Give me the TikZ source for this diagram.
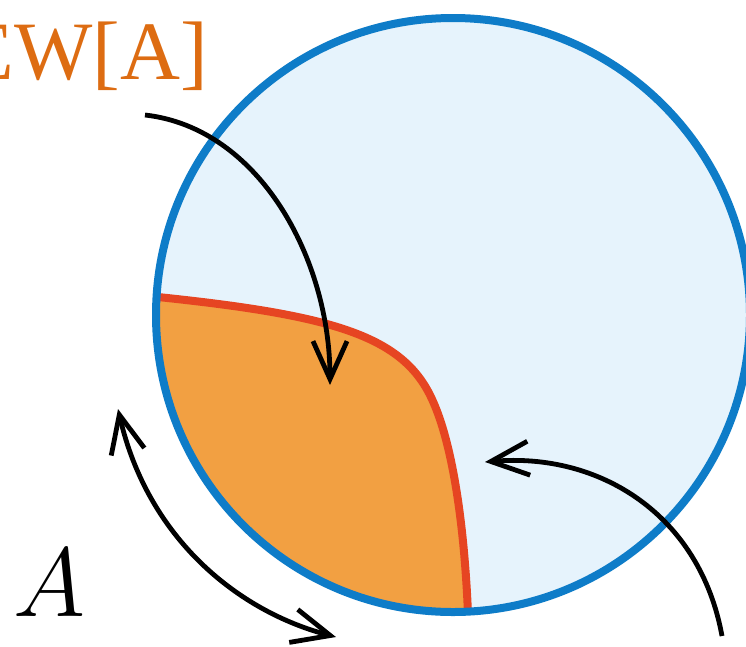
\documentclass[tikz,border=0pt]{standalone}
\usepackage{fix-cm}
\usepackage{fontspec}
\newfontfamily\timesf{Liberation Serif}
\usetikzlibrary{arrows.meta}
\definecolor{bblue}{HTML}{0E7CC8}
\definecolor{bin}{HTML}{E6F3FC}
\definecolor{bout}{HTML}{CFE7F7}
\definecolor{ofill}{HTML}{F2A042}
\definecolor{ored}{HTML}{E64522}
\definecolor{otext}{HTML}{DD6C12}
\pgfdeclareradialshading{bubble}{\pgfpoint{0bp}{0bp}}{color(0bp)=(bin); color(34bp)=(bin); color(50bp)=(bout)}
\tikzset{
  arr/.style={line width=4.8pt, -{Straight Barb[length=38pt,width=34pt]}},
  arrboth/.style={line width=4.8pt, {Straight Barb[length=38pt,width=34pt]}-{Straight Barb[length=38pt,width=34pt]}},
  lbl/.style={inner sep=0pt}
}
\begin{document}
\begin{tikzpicture}[x=1pt,y=-1pt]
\useasboundingbox (0,0) rectangle (746,646);
\coordinate (c) at (453,315);
% bubble
\shade[shading=bubble] (c) circle[radius=297];
% orange region
\begin{scope}
  \clip (c) circle[radius=297];
  \fill[ofill] (160,298) .. controls (330,315) and (400,335) .. (430,395)
     .. controls (455,445) and (465,540) .. (468,612) -- (468,700) -- (100,700) -- (100,298) -- cycle;
\end{scope}
\coordinate (r0) at (158,297);
\coordinate (r1) at (430,395);
\coordinate (r2) at (468,614);
\draw[ored, line width=8pt] (r0) .. controls (330,315) and (400,335) .. (r1)
     .. controls (455,445) and (465,540) .. (r2);
\draw[bblue, line width=8pt] (c) circle[radius=297];
% labels
\node[lbl, anchor=base east, text=otext, font=\timesf\fontsize{83}{93}\selectfont] (ew) at (208,79) {EW[A]};
\node[lbl, anchor=base west, font=\fontsize{98}{110}\selectfont] (a) at (13,616) {$A$};
% arrows
\coordinate (s1) at (145,115);
\coordinate (t1) at (330,385);
\draw[arr] (s1) .. controls (260,128) and (330,260) .. (t1);
\coordinate (s2) at (722,636);
\coordinate (t2) at (485,462);
\draw[arr] (s2) .. controls (700,515) and (600,452) .. (t2);
\coordinate (s3) at (118,409);
\coordinate (t3) at (336,637);
\draw[arrboth] (s3) .. controls (148,540) and (240,612) .. (t3);
\end{tikzpicture}
\end{document}
